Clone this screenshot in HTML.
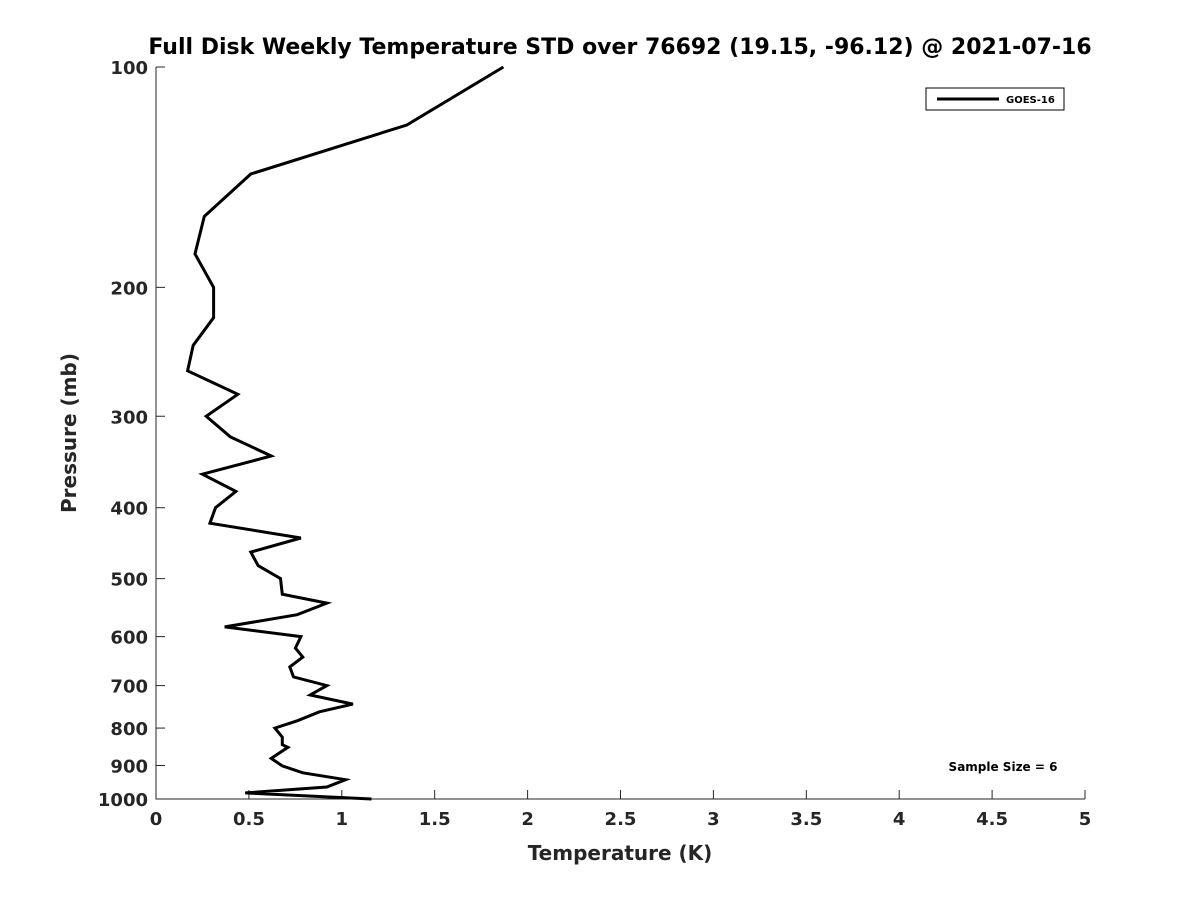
<!DOCTYPE html>
<html><head><meta charset="utf-8"><style>
body{margin:0;background:#fff;}
svg text{font-family:"DejaVu Sans","Liberation Sans",sans-serif;font-weight:bold;fill:#262626;}
</style></head><body>
<svg width="1200" height="900" id="chart">
<text x="620" y="54" text-anchor="middle" font-size="22" style="fill:#000">Full Disk Weekly Temperature STD over 76692 (19.15, -96.12) @ 2021-07-16</text>
<g id="axes"></g>
<text x="620" y="860" text-anchor="middle" font-size="20">Temperature (K)</text>
<text transform="translate(76,433) rotate(-90)" text-anchor="middle" font-size="20">Pressure (mb)</text>
<g>
<rect x="926" y="88" width="138" height="22" fill="#fff" stroke="#000" stroke-width="1"/>
<line x1="937" y1="99" x2="999" y2="99" stroke="#000" stroke-width="3"/>
<text x="1006" y="103" font-size="10" style="fill:#000">GOES-16</text>
</g>
<text x="1003" y="771" text-anchor="middle" font-size="12" style="fill:#000">Sample Size = 6</text>
</svg>
<script>
const xTicks=[0,0.5,1,1.5,2,2.5,3,3.5,4,4.5,5];
const xTickLabels=["0","0.5","1","1.5","2","2.5","3","3.5","4","4.5","5"];
const yTicks=[100,200,300,400,500,600,700,800,900,1000];
const pressure=[100,120,140,160,180,200,220,240,260,280,300,320,340,360,380,400,420,440,460,480,500,525,540,560,582,600,622,640,660,681,700,721,742,760,782,800,823,843,850,880,901,921,941,963,981,1000];
const tempStd=[1.87,1.35,0.51,0.26,0.21,0.31,0.31,0.20,0.17,0.44,0.27,0.40,0.62,0.25,0.43,0.32,0.29,0.78,0.51,0.55,0.67,0.68,0.92,0.76,0.37,0.78,0.75,0.79,0.72,0.74,0.92,0.83,1.06,0.88,0.76,0.64,0.68,0.68,0.71,0.62,0.68,0.79,1.02,0.92,0.48,1.16];
const X0=156,X1=1085,Y0=67,Y1=799;
const xs=v=>X0+(v-0)/(5-0)*(X1-X0);
const ys=p=>Y0+(Math.log10(p)-2)/(3-2)*(Y1-Y0);
const NS="http://www.w3.org/2000/svg";
const g=document.getElementById('axes');
function mk(t,a){const e=document.createElementNS(NS,t);for(const k in a)e.setAttribute(k,a[k]);g.appendChild(e);return e;}
let ax=mk('path',{d:`M${X0},${Y0}V${Y1}H${X1}`,fill:'none',stroke:'#262626','stroke-width':1});


xTicks.forEach((v,i)=>{
 const x=xs(v);
 const t=mk('line',{x1:x,y1:Y1,x2:x,y2:Y1-9,stroke:'#262626'});
 
 
 const l=mk('text',{x:x,y:Y1+26,'text-anchor':'middle','font-size':18});
 l.textContent=xTickLabels[i];
 
 
});
yTicks.forEach(p=>{
 const y=ys(p);
 const t=mk('line',{x1:X0,y1:y,x2:X0+9,y2:y,stroke:'#262626'});
 
 
 const l=mk('text',{x:X0-8,y:y+7,'text-anchor':'end','font-size':18});
 l.textContent=String(p);
 
 
});
const d=pressure.map((p,i)=>(i?'L':'M')+xs(tempStd[i]).toFixed(1)+','+ys(p).toFixed(1)).join('');
const line=mk('path',{d:d,fill:'none',stroke:'#000','stroke-width':3,'stroke-linejoin':'miter'});


</script>
</body></html>
